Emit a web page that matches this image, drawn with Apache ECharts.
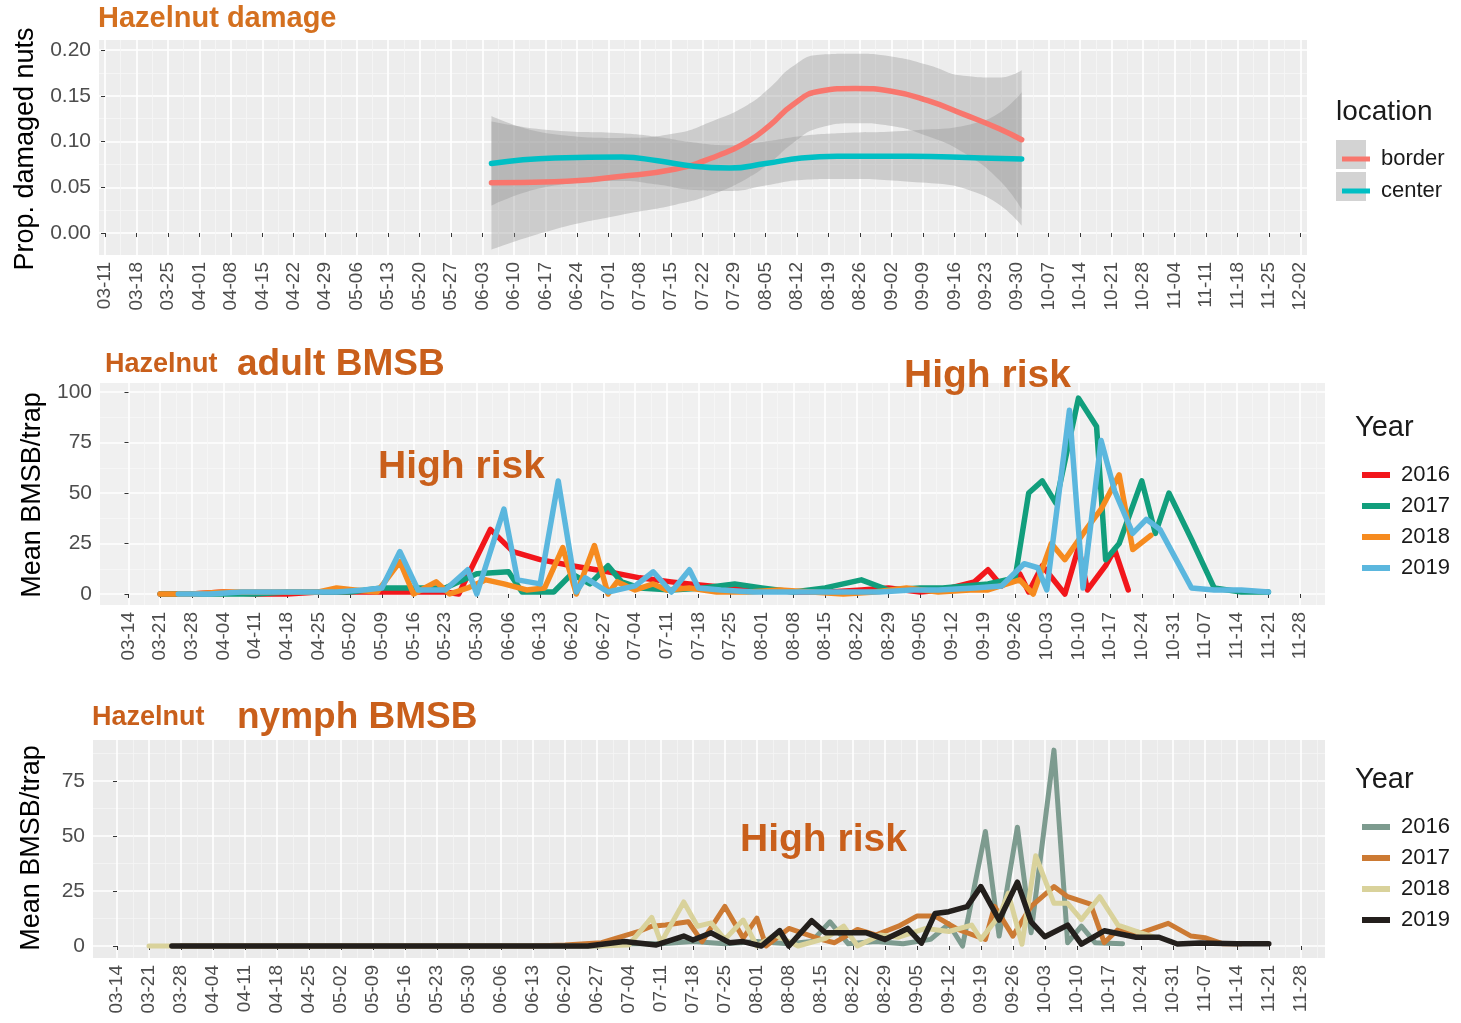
<!DOCTYPE html>
<html>
<head>
<meta charset="utf-8">
<title>Hazelnut damage and BMSB</title>
<script src="https://cdn.jsdelivr.net/npm/echarts@6.0.0/dist/echarts.min.js"></script>
<style>
  html, body { margin: 0; padding: 0; background: #fff; }
  #chart { width: 1461px; height: 1023px; }
</style>
</head>
<body>
<div id="chart"></div>
<script>
// tick labels (one per week)
const damageTicks = ['03-11', '03-18', '03-25', '04-01', '04-08', '04-15', '04-22', '04-29', '05-06', '05-13',
  '05-20', '05-27', '06-03', '06-10', '06-17', '06-24', '07-01', '07-08', '07-15', '07-22', '07-29', '08-05',
  '08-12', '08-19', '08-26', '09-02', '09-09', '09-16', '09-23', '09-30', '10-07', '10-14', '10-21', '10-28',
  '11-04', '11-11', '11-18', '11-25', '12-02']
const bmsbTicks = ['03-14', '03-21', '03-28', '04-04', '04-11', '04-18', '04-25', '05-02', '05-09', '05-16',
  '05-23', '05-30', '06-06', '06-13', '06-20', '06-27', '07-04', '07-11', '07-18', '07-25', '08-01', '08-08',
  '08-15', '08-22', '08-29', '09-05', '09-12', '09-19', '09-26', '10-03', '10-10', '10-17', '10-24', '10-31',
  '11-07', '11-14', '11-21', '11-28']
const damageY = [0, 0.05, 0.1, 0.15, 0.2]
const adultY = [0, 25, 50, 75, 100]
const nymphY = [0, 25, 50, 75]

// panel 1: smoothed damage, days since 03-11
const borderDays = [86, 100, 115, 127, 135, 143, 148, 153, 159, 167, 175, 183, 191, 199, 204]
const borderVals = [0.055, 0.056, 0.062, 0.07, 0.082, 0.1, 0.118, 0.14, 0.155, 0.158, 0.155, 0.145, 0.13, 0.114, 0.102]
const borderLow = [-0.018, 0.004, 0.02, 0.031, 0.042, 0.06, 0.077, 0.098, 0.115, 0.12, 0.117, 0.106, 0.088, 0.058, 0.026]
const borderHigh = [0.128, 0.108, 0.104, 0.109, 0.122, 0.14, 0.159, 0.182, 0.195, 0.196, 0.193, 0.184, 0.172, 0.17, 0.178]
const centerDays = [86, 100, 115, 123, 131, 139, 147, 155, 163, 179, 195, 204]
const centerVals = [0.076, 0.082, 0.083, 0.079, 0.073, 0.071, 0.076, 0.082, 0.084, 0.084, 0.082, 0.081]
const centerLow = [0.03, 0.052, 0.057, 0.053, 0.047, 0.046, 0.052, 0.058, 0.059, 0.056, 0.042, 0.008]
const centerHigh = [0.122, 0.112, 0.109, 0.105, 0.099, 0.096, 0.1, 0.106, 0.109, 0.112, 0.122, 0.154]

// panel 2: adult BMSB per trap, days since 03-14
const adult2016Days = [7, 14, 21, 28, 35, 42, 49, 56, 63, 70, 73, 80, 85, 91, 98, 106, 113, 120, 124, 133,
  141, 148, 155, 162, 168, 175, 180, 187, 190, 193, 197, 199, 202, 207, 210, 212, 216, 218, 221]
const adult2016 = [0, 0, 1, 0, 0, 1, 1, 1, 1, 1, 0, 32, 21, 17, 14, 11, 8, 6, 5, 3,
  2, 1, 1, 2, 3, 1, 2, 6, 12, 4, 10, 1, 14, 0, 23, 2, 14, 22, 2]
const adult2017Days = [7, 14, 21, 28, 35, 42, 49, 56, 63, 70, 77, 84, 87, 94, 98, 102, 106, 109, 113, 120,
  127, 134, 140, 147, 154, 162, 168, 175, 180, 190, 196, 199, 202, 205, 210, 214, 216, 219, 224, 227,
  230, 235, 240, 246, 252]
const adult2017 = [0, 0, 0, 0, 1, 1, 1, 3, 3, 3, 10, 11, 1, 1, 10, 5, 14, 6, 3, 2,
  3, 5, 3, 1, 3, 7, 2, 3, 3, 5, 8, 50, 56, 45, 97, 83, 17, 25, 56, 30,
  50, 27, 3, 1, 1]
const adult2018Days = [7, 14, 21, 28, 35, 42, 46, 50, 55, 60, 63, 68, 71, 75, 79, 83, 88, 92, 96, 99,
  103, 106, 108, 112, 116, 119, 124, 130, 137, 144, 151, 158, 165, 172, 179, 186, 190, 197, 200, 204,
  207, 212, 215, 219, 222, 226]
const adult2018 = [0, 0, 1, 1, 1, 1, 3, 2, 1, 16, 0, 6, 0, 3, 7, 5, 2, 3, 23, 0,
  24, 0, 6, 2, 5, 2, 3, 1, 1, 2, 1, 0, 1, 3, 1, 2, 2, 7, 0, 25,
  17, 33, 42, 59, 22, 29]
const adult2019Days = [11, 18, 25, 32, 39, 46, 52, 56, 60, 64, 70, 75, 77, 83, 86, 91, 95, 99, 101, 106,
  112, 116, 120, 124, 126, 131, 138, 145, 152, 159, 166, 173, 179, 187, 193, 198, 201, 203, 208, 211,
  215, 218, 222, 225, 228, 235, 240, 246, 252]
const adult2019 = [0, 0, 1, 1, 1, 1, 2, 3, 21, 2, 2, 12, 0, 42, 7, 5, 56, 1, 8, 1,
  4, 11, 1, 12, 3, 2, 1, 1, 1, 1, 1, 2, 2, 3, 4, 15, 13, 2, 91, 3,
  76, 51, 30, 37, 32, 3, 2, 2, 1]

// panel 3: nymph BMSB per trap, days since 03-14
const nymph2016Days = [14, 21, 28, 35, 42, 49, 56, 63, 70, 77, 84, 91, 98, 105, 112, 119, 126, 133, 140, 147,
  152, 156, 160, 166, 172, 178, 182, 185, 190, 193, 197, 200, 205, 208, 211, 214, 220]
const nymph2016 = [0, 0, 0, 0, 0, 0, 0, 0, 0, 0, 0, 0, 0, 0, 1, 1, 2, 1, 2, 1,
  2, 11, 1, 2, 1, 3, 10, 0, 52, 4.5, 54, 6, 89, 1.5, 9, 1.5, 1]
const nymph2017Days = [14, 21, 28, 35, 42, 49, 56, 63, 70, 77, 84, 91, 98, 106, 114, 117, 120, 125, 128, 133,
  137, 140, 142, 147, 154, 157, 162, 166, 171, 175, 179, 184, 190, 192, 196, 200, 205, 208, 213, 216,
  219, 224, 230, 235, 238, 242, 246]
const nymph2017 = [0, 0, 0, 0, 0, 0, 0, 0, 0, 0, 0, 0, 0.5, 1.5, 6.5, 9, 9.5, 11, 2, 18,
  3.6, 12.7, 0, 8, 3, 1.5, 7.5, 5, 9, 13.6, 13.6, 7.5, 3, 18, 4.5, 18, 27, 22.4, 19, 1.5,
  7.5, 6, 10.3, 4.5, 3.8, 1, 1]
const nymph2018Days = [7, 14, 21, 28, 35, 42, 49, 56, 63, 70, 77, 84, 91, 98, 105, 112, 117, 119, 124, 127,
  130, 133, 137, 140, 144, 149, 155, 159, 162, 167, 171, 177, 182, 187, 189, 193, 195, 198, 201, 205,
  208, 211, 215, 219, 224, 227]
const nymph2018 = [0, 0, 0, 0, 0, 0, 0, 0, 0, 0, 0, 0, 0, 0, 0, 0.5, 13, 1.5, 20, 9,
  10.5, 3, 11.8, 0, 5, 0, 3.5, 9, 0, 5, 4, 8, 6.6, 9.5, 3, 13.6, 24, 0.8, 41, 19.4,
  19.4, 12, 22.4, 9.5, 6, 4]
const nymph2019Days = [12, 19, 26, 33, 40, 47, 54, 61, 68, 75, 82, 89, 96, 103, 111, 118, 124, 126, 130, 134,
  137, 141, 145, 147, 152, 155, 164, 168, 173, 176, 179, 182, 186, 189, 193, 197, 200, 203, 208, 211,
  216, 223, 228, 232, 237, 245, 252]
const nymph2019 = [0, 0, 0, 0, 0, 0, 0, 0, 0, 0, 0, 0, 0, 0, 2, 0.5, 4.5, 2.7, 6, 1.5,
  2, 0, 7, 0, 11.5, 6, 6, 3, 8, 1.3, 14.8, 15.6, 17.9, 27, 11.8, 29, 11, 4.2, 9.5, 0.9,
  6.9, 4, 4, 0.9, 1.4, 1, 1]

const FONT = '"Liberation Sans", Arial, Helvetica, sans-serif'
const ORANGE = '#C95F1B'

const pairs = (days, vals) => days.map((d, i) => [d, vals[i]])
const weekValues = labels => labels.map((_, i) => i * 7)

function xAxes(grid, labels, min, max, minorColor) {
  const major = weekValues(labels)
  const minor = major.map(v => v + 3.5)
  return [{
    type: 'value', gridIndex: grid, min, max, position: 'bottom',
    axisLine: { show: false },
    axisTick: { show: true, customValues: major, length: 4, lineStyle: { color: '#333', width: 1 } },
    axisLabel: {
      customValues: major, rotate: 90, fontSize: 19, color: '#4d4d4d', fontFamily: FONT, margin: 7,
      formatter: v => labels[Math.round(v / 7)]
    },
    splitLine: { show: true, lineStyle: { color: '#fff', width: 1.6 } }
  }, {
    type: 'value', gridIndex: grid, min, max, position: 'bottom',
    axisLine: { show: false },
    axisTick: { show: false, customValues: minor },
    axisLabel: { show: false },
    splitLine: { show: true, lineStyle: { color: minorColor, width: 0.8 } }
  }]
}

function yAxes(grid, ticks, min, max, fmt, minorColor) {
  const step = ticks[1] - ticks[0]
  const minor = ticks.map(v => v + step / 2)
  return [{
    type: 'value', gridIndex: grid, min, max, position: 'left',
    axisLine: { show: false },
    axisTick: { show: true, customValues: ticks, length: 4, lineStyle: { color: '#333', width: 1 } },
    axisLabel: { customValues: ticks, fontSize: 21, color: '#4d4d4d', fontFamily: FONT, margin: 8, formatter: fmt },
    splitLine: { show: true, lineStyle: { color: '#fff', width: 1.6 } }
  }, {
    type: 'value', gridIndex: grid, min, max, position: 'left',
    axisLine: { show: false },
    axisTick: { show: false, customValues: minor },
    axisLabel: { show: false },
    splitLine: { show: true, lineStyle: { color: minorColor, width: 0.8 } }
  }]
}

function line(name, days, vals, color, panel, width, smooth) {
  return {
    name, type: 'line', xAxisIndex: panel * 2, yAxisIndex: panel * 2,
    data: pairs(days, vals), color, smooth: !!smooth,
    showSymbol: false, symbol: 'none', silent: true,
    lineStyle: { color, width, join: 'round', cap: 'round' }, z: 3
  }
}

// confidence ribbon: value first in each row so the stack runs on y, day second for x
function band(id, days, low, high) {
  const common = {
    type: 'line', xAxisIndex: 0, yAxisIndex: 0, stack: id, stackStrategy: 'all',
    encode: { x: 1, y: 0 }, smooth: true, symbol: 'none', showSymbol: false, silent: true,
    lineStyle: { opacity: 0, width: 0 }, z: 2
  }
  return [
    Object.assign({ name: id + '-low', data: days.map((d, i) => [low[i], d]) }, common),
    Object.assign({
      name: id + '-band', data: days.map((d, i) => [high[i] - low[i], d]),
      areaStyle: { color: 'rgba(150,150,150,0.38)', opacity: 1 }
    }, common)
  ]
}

const adultColors = ['#F2161B', '#119E7C', '#F68B1F', '#5BB7DE']
const nymphColors = ['#7D9B8F', '#CC7A33', '#D9D29B', '#231F1C']

function legend(names, left, top, gap, h) {
  return {
    data: names, left, top, orient: 'vertical', itemWidth: 28, itemHeight: h, itemGap: gap, icon: 'rect',
    selectedMode: false,
    textStyle: { fontSize: 22, lineHeight: 24, color: '#1a1a1a', fontFamily: FONT, padding: [0, 0, 0, 6] },
    formatter: n => n.split(' ').pop()
  }
}

function text(str, x, y, size, color, bold, extra, align) {
  return Object.assign({
    type: 'text', x, y, z: 10,
    style: {
      text: str, font: (bold ? 'bold ' : '') + size + 'px ' + FONT, fill: color,
      textVerticalAlign: 'middle', textAlign: align || 'left'
    }
  }, extra || {})
}

const chart = echarts.init(document.getElementById('chart'))
chart.setOption({
  animation: false,
  textStyle: { fontFamily: FONT },
  grid: [
    { left: 99, top: 40, width: 1208, height: 215, show: true, backgroundColor: '#EDEDED', borderWidth: 0 },
    { left: 100, top: 383, width: 1225, height: 222, show: true, backgroundColor: '#F0F0F0', borderWidth: 0 },
    { left: 93, top: 740, width: 1232, height: 218, show: true, backgroundColor: '#EBEBEB', borderWidth: 0 }
  ],
  xAxis: [
    ...xAxes(0, damageTicks, -1.34, 267.5, '#F6F6F6'),
    ...xAxes(1, bmsbTicks, -6.3, 264.5, '#F7F7F7'),
    ...xAxes(2, bmsbTicks, -5.25, 264.3, '#F5F5F5')
  ],
  yAxis: [
    ...yAxes(0, damageY, -0.024, 0.211, v => v.toFixed(2), '#F6F6F6'),
    ...yAxes(1, adultY, -5.45, 104.5, v => String(v), '#F7F7F7'),
    ...yAxes(2, nymphY, -5.45, 93.6, v => String(v), '#F5F5F5')
  ],
  legend: [
    legend(['border', 'center'], 1337, 142, 8, 5),
    legend(['adult 2016', 'adult 2017', 'adult 2018', 'adult 2019'], 1357, 458, 7, 6),
    legend(['nymph 2016', 'nymph 2017', 'nymph 2018', 'nymph 2019'], 1357, 810, 7, 6)
  ],
  series: [
    ...band('border', borderDays, borderLow, borderHigh),
    ...band('center', centerDays, centerLow, centerHigh),
    line('border', borderDays, borderVals, '#F8766D', 0, 5.5, true),
    line('center', centerDays, centerVals, '#00BFC4', 0, 5.5, true),
    line('adult 2016', adult2016Days, adult2016, adultColors[0], 1, 5.5),
    line('adult 2017', adult2017Days, adult2017, adultColors[1], 1, 5.5),
    line('adult 2018', adult2018Days, adult2018, adultColors[2], 1, 5.5),
    line('adult 2019', adult2019Days, adult2019, adultColors[3], 1, 5.5),
    line('nymph 2016', nymph2016Days, nymph2016, nymphColors[0], 2, 5),
    line('nymph 2017', nymph2017Days, nymph2017, nymphColors[1], 2, 5),
    line('nymph 2018', nymph2018Days, nymph2018, nymphColors[2], 2, 5),
    line('nymph 2019', nymph2019Days, nymph2019, nymphColors[3], 2, 5.5)
  ],
  graphic: [
    // legend key backgrounds for the smooth ribbons
    { type: 'rect', x: 1336, y: 140, z: 1, shape: { width: 30, height: 29 }, style: { fill: '#D3D3D3' } },
    { type: 'rect', x: 1336, y: 172, z: 1, shape: { width: 30, height: 29 }, style: { fill: '#D3D3D3' } },
    text('location', 1336, 112, 28, '#1a1a1a', false),
    text('Year', 1355, 428, 29, '#1a1a1a', false),
    text('Year', 1355, 780, 29, '#1a1a1a', false),
    // axis titles
    text('Prop. damaged nuts', 26, 149, 27, '#000', false, { rotation: Math.PI / 2 }, 'center'),
    text('Mean BMSB/trap', 33, 495, 27, '#000', false, { rotation: Math.PI / 2 }, 'center'),
    text('Mean BMSB/trap', 32, 848, 27, '#000', false, { rotation: Math.PI / 2 }, 'center'),
    // panel titles
    text('Hazelnut damage', 98, 19, 29, '#D4701F', true),
    text('Hazelnut', 105, 365, 27, ORANGE, true),
    text('adult BMSB', 237, 365, 37, ORANGE, true),
    text('Hazelnut', 92, 718, 27, ORANGE, true),
    text('nymph BMSB', 237, 718, 37, ORANGE, true),
    // annotations
    text('High risk', 378, 467, 39, ORANGE, true),
    text('High risk', 904, 376, 39, ORANGE, true),
    text('High risk', 740, 840, 39, ORANGE, true)
  ]
})
</script>
</body>
</html>
